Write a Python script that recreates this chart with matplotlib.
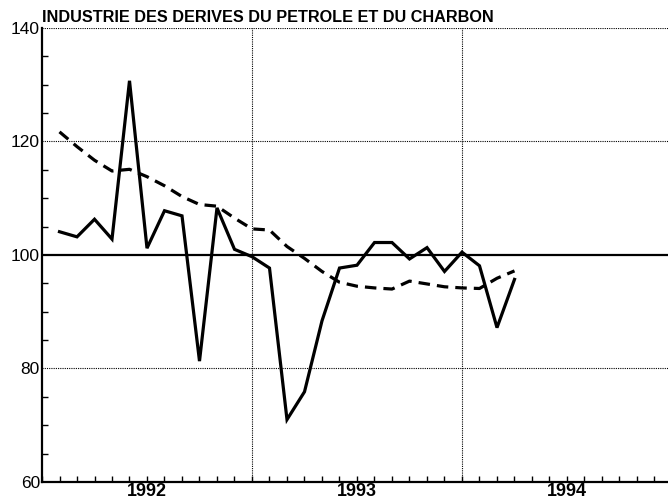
import numpy as np
import matplotlib
matplotlib.use("Agg")
import matplotlib.pyplot as plt

plt.rcParams['font.family'] = ['Liberation Sans', 'DejaVu Sans']

title = "INDUSTRIE DES DERIVES DU PETROLE ET DU CHARBON"

# monthly values, first point at Feb 1992
raw = [104.1, 103.2, 106.3, 102.8, 130.7, 101.2, 107.8, 106.9, 81.3, 108.3,
       101.0, 99.7, 97.7, 71.0, 75.9, 88.4, 97.7, 98.2, 102.2, 102.2,
       99.3, 101.3, 97.1, 100.5, 98.1, 87.2, 95.7]
trend = [121.7, 119.1, 116.7, 114.8, 115.1, 113.8, 112.2, 110.3, 108.9, 108.6,
         106.5, 104.6, 104.4, 101.5, 99.4, 97.1, 95.2, 94.5, 94.2, 94.0,
         95.4, 94.9, 94.4, 94.2, 94.1, 95.9, 97.2]
years = [1992, 1993, 1994]
y_ticks = [60, 80, 100, 120, 140]

start = 1992 + 1 / 12
months = start + np.arange(len(raw)) / 12

fig = plt.figure(figsize=(6.68, 5.0), dpi=100)
ax = fig.add_axes([42 / 668, 18 / 500, 626 / 668, 454 / 500])

# grid lines
for v in [80, 120, 140]:
    ax.axhline(v, color='black', lw=0.8, ls=(0, (1, 1)), zorder=1)
ax.axhline(100, color='black', lw=1.6, zorder=1)
for yr in years[1:]:
    ax.axvline(yr, color='black', lw=0.8, ls=(0, (1, 1)), zorder=1)

ax.plot(months, raw, color='black', lw=2.3, solid_joinstyle='miter', zorder=3)
ax.plot(months, trend, color='black', lw=2.3, dashes=(3.6, 2.2), zorder=3)

ax.set_xlim(1992, 1992 + 626 / 210)
ax.set_ylim(60, 140)

for side in ['top', 'right']:
    ax.spines[side].set_visible(False)
ax.spines['left'].set_linewidth(1.6)
ax.spines['bottom'].set_linewidth(1.6)

# y axis: labels at 20s, small ticks every 5
ax.set_yticks(y_ticks)
ax.set_yticklabels([str(v) for v in y_ticks])
ax.set_yticks(np.arange(60, 141, 5), minor=True)
ax.tick_params(axis='y', which='major', direction='in', length=0, pad=1.5,
               labelsize=12.5)
ax.tick_params(axis='y', which='minor', direction='in', length=4, width=1)

# x axis: month ticks, year labels mid-year
ax.xaxis.remove_overlapping_locs = False
ax.set_xticks(np.arange(1992, 1995, 1 / 12))
ax.set_xticklabels([])
ax.set_xticks([y + 0.5 for y in years], minor=True)
ax.set_xticklabels([str(y) for y in years], minor=True, fontweight='bold')
ax.tick_params(axis='x', which='major', direction='in', length=4, width=1)
ax.tick_params(axis='x', which='minor', length=0, pad=0.5, labelsize=13)

ax.text(0, 1.006, title, transform=ax.transAxes, ha='left', va='bottom',
        fontsize=11.7, fontweight='bold')

fig.savefig("out.png", dpi=100)
